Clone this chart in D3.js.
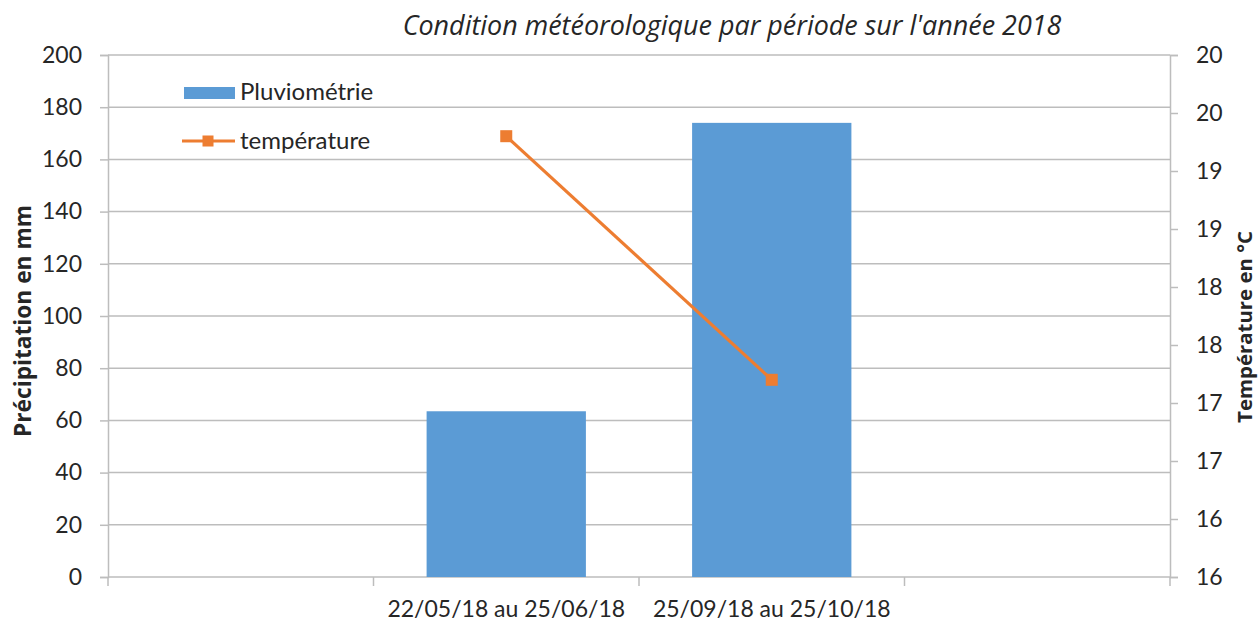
<!DOCTYPE html>
<html>
<head>
<meta charset="utf-8">
<script src="https://cdn.jsdelivr.net/npm/d3@7/dist/d3.min.js"></script>
<style>
  html, body { margin: 0; padding: 0; background: #fff; }
  svg { display: block; }
  text { font-family: Lato, "Open Sans", sans-serif; fill: #262626; }
</style>
</head>
<body>
<svg id="chart" width="1259" height="625"></svg>
<script>
// ---- Data ----
const categories = ["", "22/05/18 au 25/06/18", "25/09/18 au 25/10/18", ""];
const pluviometrie = [null, 63.5, 174, null];
const temperature = [null, 19.3, 17.2, null];
const leftTicks = [0, 20, 40, 60, 80, 100, 120, 140, 160, 180, 200];
const rightTicks = [15.5, 16, 16.5, 17, 17.5, 18, 18.5, 19, 19.5, 20];
const titleText = "Condition météorologique par période sur l'année 2018";
const leftTitle = "Précipitation en mm";
const rightTitle = "Température en °C";
const seriesNames = ["Pluviométrie", "température"];

// ---- Layout ----
const plot = { left: 108, right: 1170, top: 55, bottom: 577 };
const blue = "#5B9BD5", orange = "#ED7D31", grid = "#bdbdbd";

const svg = d3.select("#chart");

const idx = categories.map((d, i) => i);
const x = d3.scaleBand().domain(idx).range([plot.left, plot.right]).padding(0);
const yL = d3.scaleLinear().domain([0, 200]).range([plot.bottom, plot.top]);
const yR = d3.scaleLinear().domain([15.5, 20]).range([plot.bottom, plot.top]);

function fitWidth(sel, target) {
  const fs = parseFloat(sel.attr("font-size"));
  const len = sel.node().getComputedTextLength();
  if (len > 0) sel.attr("font-size", (fs * target / len).toFixed(2));
}

// gridlines
svg.append("g").selectAll("line").data(leftTicks.filter(d => d > 0)).join("line")
  .attr("x1", plot.left).attr("x2", plot.right)
  .attr("y1", d => yL(d)).attr("y2", d => yL(d))
  .attr("stroke", grid).attr("stroke-width", 1.5);

// left axis
const axL = d3.axisLeft(yL).tickValues(leftTicks).tickSize(8).tickPadding(18).tickFormat(d3.format("d"));
const gL = svg.append("g").attr("transform", `translate(${plot.left},0)`).call(axL);
// right axis
const axR = d3.axisRight(yR).tickValues(rightTicks).tickSize(8).tickPadding(18)
  .tickFormat(d => String(Math.round(d)));
const gR = svg.append("g").attr("transform", `translate(${plot.right},0)`).call(axR);
// bottom axis
const bounds = d3.range(categories.length + 1).map(i => plot.left + i * x.step());
const gB = svg.append("g").attr("transform", `translate(0,${plot.bottom})`);
gB.append("line").attr("x1", plot.left).attr("x2", plot.right).attr("y1", 0).attr("y2", 0)
  .attr("stroke", grid).attr("stroke-width", 1.5);
gB.selectAll("line.t").data(bounds).join("line").attr("class", "t")
  .attr("x1", d => d).attr("x2", d => d).attr("y1", 0).attr("y2", 9)
  .attr("stroke", grid).attr("stroke-width", 1.5);
gB.selectAll("text").data(idx.filter(i => categories[i] !== "")).join("text")
  .attr("x", i => x(i) + x.bandwidth() / 2).attr("y", 40)
  .attr("text-anchor", "middle").attr("font-size", 23)
  .text(i => categories[i]);

[gL, gR].forEach(g => {
  g.select(".domain").attr("stroke", grid).attr("stroke-width", 1.5);
  g.selectAll(".tick line").attr("stroke", grid).attr("stroke-width", 1.5);
  g.selectAll(".tick text").attr("font-size", 23).attr("font-family", "Lato").attr("fill", "#262626");
});

// bars
const barW = x.bandwidth() * 0.6;
svg.append("g").selectAll("rect").data(idx.filter(i => pluviometrie[i] != null)).join("rect")
  .attr("x", i => x(i) + (x.bandwidth() - barW) / 2)
  .attr("width", barW)
  .attr("y", i => yL(pluviometrie[i]))
  .attr("height", i => yL(0) - yL(pluviometrie[i]))
  .attr("fill", blue);

// line
const pts = idx.filter(i => temperature[i] != null);
const line = d3.line().x(i => x(i) + x.bandwidth() / 2).y(i => yR(temperature[i]));
svg.append("path").datum(pts).attr("d", line)
  .attr("fill", "none").attr("stroke", orange).attr("stroke-width", 3.2);
svg.append("g").selectAll("rect").data(pts).join("rect")
  .attr("x", i => x(i) + x.bandwidth() / 2 - 6)
  .attr("y", i => yR(temperature[i]) - 6)
  .attr("width", 12).attr("height", 12).attr("fill", orange);

// title
const t = svg.append("text").attr("x", 732).attr("y", 35).attr("text-anchor", "middle")
  .attr("font-size", 24).attr("font-style", "italic").attr("fill", "#000")
  .style("font-family", "'Open Sans', sans-serif").text(titleText);
fitWidth(t, 659);

// axis titles
const lt = svg.append("text").attr("transform", "translate(31,321) rotate(-90)")
  .attr("text-anchor", "middle").attr("font-size", 21).attr("font-weight", "bold")
  .attr("fill", "#000").style("font-family", "'Open Sans', sans-serif").text(leftTitle);
fitWidth(lt, 232);
const rt = svg.append("text").attr("transform", "translate(1252,327) rotate(-90)")
  .attr("text-anchor", "middle").attr("font-size", 20).attr("font-weight", "bold")
  .attr("fill", "#000").style("font-family", "'Open Sans', sans-serif").text(rightTitle);
fitWidth(rt, 192);

// legend
const lg = svg.append("g");
lg.append("rect").attr("x", 184).attr("y", 87).attr("width", 51).attr("height", 12).attr("fill", blue);
lg.append("text").attr("x", 240).attr("y", 100).attr("font-size", 24).text(seriesNames[0]);
lg.append("line").attr("x1", 182).attr("x2", 235).attr("y1", 141).attr("y2", 141)
  .attr("stroke", orange).attr("stroke-width", 3.2);
lg.append("rect").attr("x", 208 - 5.5).attr("y", 141 - 5.5).attr("width", 11).attr("height", 11).attr("fill", orange);
lg.append("text").attr("x", 240).attr("y", 149).attr("font-size", 24).text(seriesNames[1]);
</script>
</body>
</html>
